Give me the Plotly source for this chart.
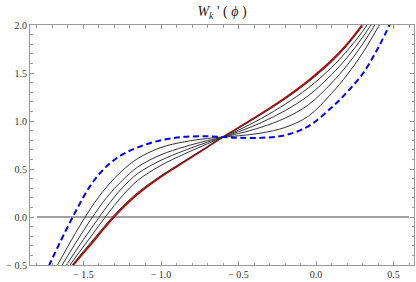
import plotly.graph_objects as go

# Sample abscissae (phi) shared by all curves
phi = [-1.75, -1.65, -1.55, -1.45, -1.35, -1.25, -1.15, -1.0, -0.85, -0.7,
       -0.6, -0.5, -0.35, -0.2, -0.05, 0.1, 0.2, 0.3, 0.4, 0.5]

# Initial potential derivative (blue dashed)
w_initial = [-0.60, -0.26, 0.06, 0.34, 0.53, 0.65, 0.725, 0.80, 0.835, 0.84,
             0.833, 0.825, 0.825, 0.852, 0.945, 1.14, 1.30, 1.49, 1.76, 2.09]

# Intermediate flow curves (black)
w_k1 = [-0.738, -0.449, -0.163, 0.098, 0.315, 0.482, 0.609, 0.724, 0.783, 0.818,
        0.833, 0.846, 0.876, 0.933, 1.050, 1.287, 1.48, 1.706, 1.976, 2.277]
w_k2 = [-0.798, -0.533, -0.269, -0.020, 0.204, 0.381, 0.521, 0.648, 0.731, 0.796,
        0.833, 0.869, 0.937, 1.030, 1.168, 1.395, 1.58, 1.799, 2.056, 2.34]
w_k3 = [-0.846, -0.600, -0.353, -0.119, 0.106, 0.303, 0.453, 0.591, 0.692, 0.780,
        0.833, 0.888, 0.986, 1.108, 1.263, 1.483, 1.66, 1.871, 2.113, 2.383]
w_k4 = [-0.879, -0.646, -0.417, -0.199, 0.020, 0.219, 0.381, 0.538, 0.656, 0.763,
        0.833, 0.905, 1.029, 1.174, 1.344, 1.557, 1.73, 1.933, 2.169, 2.429]
w_k5 = [-0.891, -0.667, -0.454, -0.261, -0.067, 0.107, 0.255, 0.431, 0.583, 0.733,
        0.833, 0.927, 1.072, 1.228, 1.406, 1.615, 1.785, 1.99, 2.216, 2.468]

# Final curve (red)
w_final = [-0.90, -0.68, -0.47, -0.28, -0.085, 0.09, 0.24, 0.42, 0.575, 0.73,
           0.833, 0.93, 1.08, 1.24, 1.42, 1.63, 1.80, 2.005, 2.23, 2.48]

x_ticks = [-1.5, -1.0, -0.5, 0.0, 0.5]
y_ticks = [-0.5, 0.0, 0.5, 1.0, 1.5, 2.0]


def fmt(v):
    s = f"{abs(v):.1f}"
    return ("\u2212 " + s) if v < 0 else s


fig = go.Figure()

fig.add_trace(go.Scatter(x=phi, y=w_final, mode="lines",
                         line=dict(color="#c80000", width=1.8, shape="spline"),
                         showlegend=False))
for ys in [w_k1, w_k2, w_k3, w_k4, w_k5]:
    fig.add_trace(go.Scatter(x=phi, y=ys, mode="lines",
                             line=dict(color="#333333", width=1, shape="spline"),
                             showlegend=False))
fig.add_trace(go.Scatter(x=phi, y=w_initial, mode="lines",
                         line=dict(color="#0000ff", width=2, dash="6px,3.5px",
                                   shape="spline"),
                         showlegend=False))

# horizontal axis at y = 0 spanning the plot range
fig.add_shape(type="line", xref="x", yref="y", x0=-1.8, x1=0.6, y0=0, y1=0,
              line=dict(color="#444444", width=1), layer="below")

axis_common = dict(
    showgrid=False, zeroline=False, showline=True, linecolor="#999999",
    linewidth=1, mirror="allticks", ticks="inside", ticklen=4,
    tickcolor="#999999", tickwidth=1,
    tickfont=dict(family="Liberation Serif", size=10, color="#333333"),
)

fig.update_xaxes(range=[-1.845, 0.632], tickmode="array", tickvals=x_ticks,
                 ticktext=[fmt(v) for v in x_ticks],
                 minor=dict(tickmode="linear", tick0=0, dtick=0.1,
                            ticks="inside", ticklen=2.5, tickcolor="#999999"),
                 **axis_common)
fig.update_yaxes(range=[-0.5, 2.0], tickmode="array", tickvals=y_ticks,
                 ticktext=[fmt(v) for v in y_ticks],
                 minor=dict(tickmode="linear", tick0=0, dtick=0.1,
                            ticks="inside", ticklen=2.5, tickcolor="#999999"),
                 **axis_common)

fig.update_layout(
    width=416, height=282,
    margin=dict(l=30, r=2, t=25, b=17),
    plot_bgcolor="white", paper_bgcolor="white",
    title=dict(text="<i>W</i><sub><i>k</i></sub> ' ( <i>\u03d5</i> )",
               x=222 / 416, xanchor="center", y=1 - 11 / 282, yanchor="middle",
               font=dict(family="Liberation Serif", size=14, color="#222222")),
)

fig.write_html("out.html",
               config={"displayModeBar": False, "staticPlot": True},
               post_script="document.body.style.margin='0';"
                           "document.body.style.padding='0';")
